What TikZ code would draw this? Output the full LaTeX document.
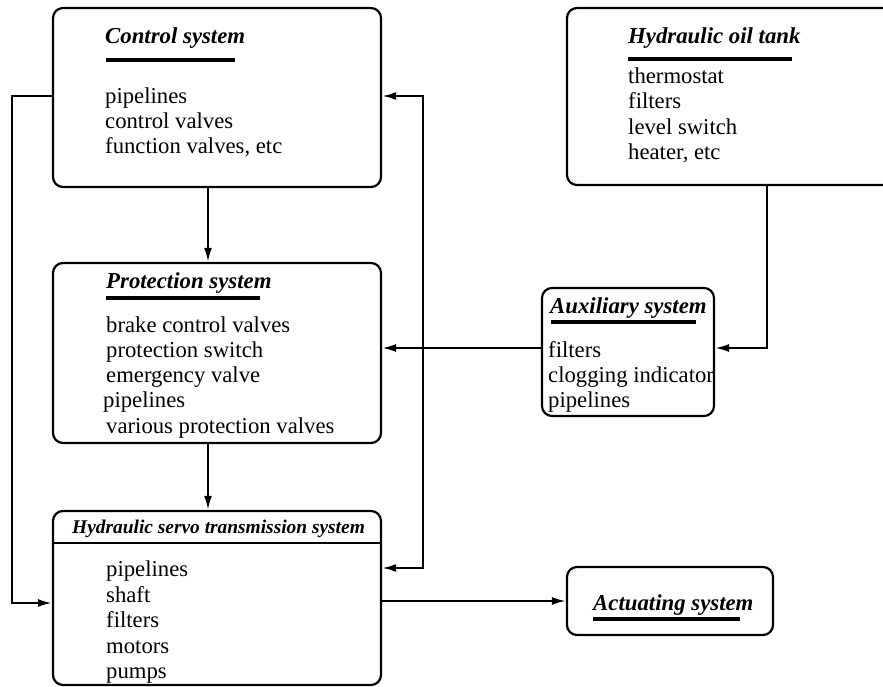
\documentclass[tikz,border=0pt]{standalone}
\usepackage{fontspec}
\setmainfont{Liberation Serif}
\usetikzlibrary{arrows.meta}

\tikzset{
  sysbox/.style={draw, line width=2.2pt, rounded corners=10pt, inner sep=0pt},
  systitle/.style={font=\fontsize{22.8}{25}\selectfont\bfseries\itshape, anchor=base west, inner sep=0pt},
  smalltitle/.style={font=\fontsize{19.4}{22}\selectfont\bfseries\itshape, anchor=base west, inner sep=0pt},
  sysitem/.style={font=\fontsize{22.7}{25}\selectfont, anchor=base west, inner sep=0pt},
  titlerule/.style={line width=3.5pt},
  flow/.style={line width=2.2pt, -{Latex[length=14pt,width=8pt]}},
  twoflow/.style={line width=2.2pt, {Latex[length=14pt,width=8pt]}-{Latex[length=14pt,width=8pt]}}
}

\begin{document}
\begin{tikzpicture}[x=1pt, y=-1pt]
    \clip (0,0) rectangle (883,687);

    % boxes
    \node[sysbox, minimum width=328pt, minimum height=179pt] (ctrl)  at (217,97.5) {};
    \node[sysbox, minimum width=343pt, minimum height=177pt] (tank)  at (738.5,96.5) {};
    \node[sysbox, minimum width=328pt, minimum height=180pt] (prot)  at (217,353) {};
    \node[sysbox, minimum width=172pt, minimum height=128pt] (aux)   at (628,352) {};
    \node[sysbox, minimum width=328pt, minimum height=174pt] (servo) at (217,598) {};
    \node[sysbox, minimum width=206pt, minimum height=68pt]  (act)   at (670,601) {};

    % control system
    \node[systitle] (ctrltitle) at (105,44){Control system};
    \draw[titlerule] (106,60) -- (235,60);
    \node[sysitem] at (105,104){pipelines};
    \node[sysitem] at (105,129){control valves};
    \node[sysitem] at (105,154){function valves, etc};

    % hydraulic oil tank
    \node[systitle] (tanktitle) at (628,44){Hydraulic oil tank};
    \draw[titlerule] (628,59) -- (792,59);
    \node[sysitem] at (628,84){thermostat};
    \node[sysitem] at (628,109){filters};
    \node[sysitem] at (628,135){level switch};
    \node[sysitem] at (628,160){heater, etc};

    % protection system
    \node[systitle] (prottitle) at (106,288){Protection system};
    \draw[titlerule] (106,298) -- (260,298);
    \node[sysitem] at (106,332){brake control valves};
    \node[sysitem] at (106,357){protection switch};
    \node[sysitem] at (106,382){emergency valve};
    \node[sysitem] at (103,407){pipelines};
    \node[sysitem] at (106,433){various protection valves};

    % auxiliary system
    \node[systitle] (auxtitle) at (550,313){Auxiliary system};
    \draw[titlerule] (551,322) -- (696,322);
    \node[sysitem] at (548,357){filters};
    \node[sysitem] at (548,382){clogging indicator};
    \node[sysitem] at (548,407){pipelines};

    % hydraulic servo transmission system
    \node[smalltitle] (servotitle) at (72,533){Hydraulic servo transmission system};
    \draw[line width=2.8pt] (servo.west |- 0,543) -- (servo.east |- 0,543);
    \node[sysitem] at (106,576){pipelines};
    \node[sysitem] at (106,602){shaft};
    \node[sysitem] at (106,627){filters};
    \node[sysitem] at (106,653){motors};
    \node[sysitem] at (106,678){pumps};

    % actuating system
    \node[systitle] (acttitle) at (593,610){Actuating system};
    \draw[titlerule] (593,619) -- (740,619);

    % connectors
    \coordinate (midcol) at (208,0);
    \coordinate (leftrail) at (12,96);
    \coordinate (rightrail) at (423,96);
    \coordinate (shaftrow) at (0,603);
    \coordinate (piperow) at (0,568);
    \coordinate (tankdrop) at (767,348);

    \draw[flow] (ctrl.south -| midcol) -- (prot.north -| midcol);
    \draw[flow] (prot.south -| midcol) -- (servo.north -| midcol);
    \draw[flow] (ctrl.west |- leftrail) -- (leftrail) |- (servo.west |- shaftrow);
    \draw[twoflow] (ctrl.east |- rightrail) -- (rightrail) |- (servo.east |- piperow);
    \draw[flow] (tank.south -| tankdrop) -- (tankdrop) -- (aux.east |- tankdrop);
    \draw[flow] (aux.west |- tankdrop) -- (prot.east |- tankdrop);
    \draw[flow] (servo.east |- act.west) -- (act.west);
\end{tikzpicture}
\end{document}
